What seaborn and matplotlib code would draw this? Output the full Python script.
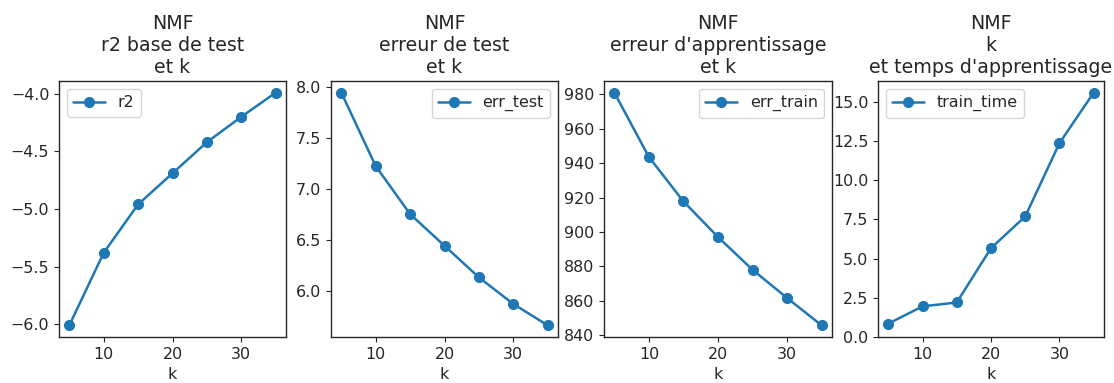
import matplotlib
matplotlib.use('Agg')
import matplotlib.pyplot as plt
from matplotlib.ticker import MultipleLocator
import seaborn as sns

# --- Data ---
k = [5, 10, 15, 20, 25, 30, 35]
r2 = [-6.01, -5.38, -4.96, -4.69, -4.42, -4.20, -3.99]
err_test = [7.94, 7.22, 6.75, 6.44, 6.13, 5.87, 5.66]
err_train = [981.0, 943.6, 917.8, 897.1, 878.1, 861.7, 845.8]
train_time = [0.85, 1.95, 2.2, 5.66, 7.68, 12.35, 15.57]

titles = [
    "NMF\nr2 base de test\net k",
    "NMF\nerreur de test\net k",
    "NMF\nerreur d'apprentissage\net k",
    "NMF\nk\net temps d'apprentissage",
]
labels = ["r2", "err_test", "err_train", "train_time"]
series = [r2, err_test, err_train, train_time]
legend_loc = ["upper left", "upper right", "upper right", "upper left"]
ytick_step = [0.5, 0.5, 20, 2.5]

sns.set_style("ticks")
plt.rcParams['font.family'] = ['DejaVu Sans']
fs = 11.4
plt.rcParams.update({'xtick.labelsize': fs, 'ytick.labelsize': fs,
                     'axes.labelsize': fs, 'legend.fontsize': fs})

W, H = 1114, 383
fig = plt.figure(figsize=(W / 100, H / 100), dpi=100)

# axes boxes in pixels: (left, right)
boxes = [(59, 286), (331, 558), (604, 832), (878, 1104)]
top_px, bottom_px = 81, 337

for i, ((l, r), title, lab, vals, loc) in enumerate(zip(boxes, titles, labels, series, legend_loc)):
    ax = fig.add_axes([l / W, (H - bottom_px) / H, (r - l) / W, (bottom_px - top_px) / H])
    sns.lineplot(x=k, y=vals, marker='o', label=lab, ax=ax, color='#1f77b4',
                 markersize=7, markeredgecolor='#1f77b4', markeredgewidth=1,
                 linewidth=1.8)
    ax.set_title(title, fontsize=13.7)
    ax.set_xlabel("k")
    ax.yaxis.set_major_locator(MultipleLocator(ytick_step[i]))
    ax.xaxis.set_major_locator(MultipleLocator(10))
    if lab == "train_time":
        ax.set_ylim(bottom=0)
    ax.legend(loc=loc)
    for s in ax.spines.values():
        s.set_linewidth(1.0)

fig.savefig("out.png", dpi=100)
